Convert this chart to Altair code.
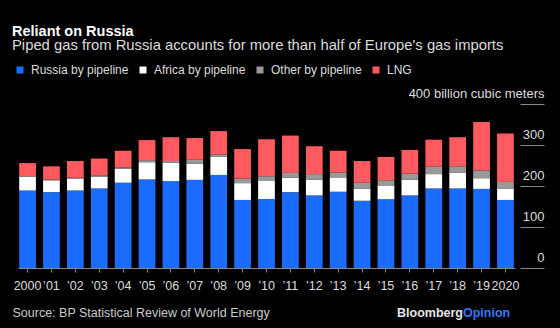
import altair as alt
import pandas as pd

years = ["2000", "’01", "’02", "’03", "’04", "’05", "’06", "’07", "’08", "’09", "’10",
         "’11", "’12", "’13", "’14", "’15", "’16", "’17", "’18", "’19", "2020"]
russia = [189, 185, 189, 194, 208, 216, 212, 215, 227, 166, 168,
          185, 177, 186, 164, 168, 177, 194, 194, 193, 166]
africa = [33, 29, 29, 29, 34, 42, 45, 39, 44, 41, 44,
          35, 38, 35, 29, 32, 38, 35, 38, 26, 28]
other = [2, 2, 2, 3, 3, 5, 4, 10, 6, 11, 12,
         12, 14, 12, 15, 14, 15, 18, 16, 19, 16]
lng = [32, 32, 41, 41, 41, 49, 58, 53, 57, 72, 90,
       91, 68, 53, 53, 57, 58, 66, 71, 118, 118]

series = ["Russia by pipeline", "Africa by pipeline", "Other by pipeline", "LNG"]
colors = ["#1a6cff", "#ffffff", "#999999", "#ff5a5f"]

rows = []
for i, y in enumerate(years):
    for k, (name, vals) in enumerate(zip(series, [russia, africa, other, lng])):
        rows.append({"year": y, "series": name, "value": vals[i], "order": k})
df = pd.DataFrame(rows)

FONT = "Liberation Sans"

bars = alt.Chart(df).mark_bar().encode(
    x=alt.X("year:N", sort=years,
            scale=alt.Scale(paddingInner=0.3, paddingOuter=0.05),
            axis=alt.Axis(title="Source: BP Statistical Review of World Energy",
                          titleAnchor="start", titleAlign="left", titleX=-6, titleY=48,
                          titleBaseline="alphabetic",
                          titleFontWeight="normal", titleColor="#cccccc", titleFontSize=12.5,
                          titleFont=FONT,
                          labelAngle=0, labelFontSize=12.5, labelColor="#dddddd",
                          labelPadding=7, tickSize=4, tickColor="#888888",
                          domainColor="#888888", labelFont=FONT)),
    y=alt.Y("value:Q", stack="zero",
            scale=alt.Scale(domain=[0, 400], nice=False),
            axis=alt.Axis(orient="right", values=[0, 100, 200, 300, 400], grid=False,
                          domain=False, offset=5, tickSize=24, tickColor="#888888",
                          labelAlign="right", labelBaseline="alphabetic", labelOffset=-7,
                          labelPadding=0, labelOverlap=False, labelFontSize=13,
                          labelColor="#dddddd", labelFont=FONT, title=None,
                          labelExpr="datum.value == 400 ? '400 billion cubic meters' : datum.label")),
    color=alt.Color("series:N", sort=series,
                    scale=alt.Scale(domain=series, range=colors),
                    legend=alt.Legend(orient="none", legendX=-4, legendY=-40,
                                      direction="horizontal", title=None,
                                      symbolType="square", symbolSize=49,
                                      symbolStrokeWidth=0, labelFontSize=12,
                                      labelColor="#dddddd", labelFont=FONT,
                                      labelOffset=5, columnPadding=8)),
    order=alt.Order("order:Q", sort="ascending"),
)

bb = alt.Chart(pd.DataFrame({"t": ["Bloomberg"]})).mark_text(
    align="right", baseline="middle", fontSize=12.5, fontWeight="bold",
    color="#e6e6e6", font=FONT
).encode(text="t:N", x=alt.value(445), y=alt.value(209))

op = alt.Chart(pd.DataFrame({"t": ["Opinion"]})).mark_text(
    align="left", baseline="middle", fontSize=12.5, fontWeight="bold",
    color="#2a7bff", font=FONT
).encode(text="t:N", x=alt.value(445), y=alt.value(209))

chart = alt.layer(bars, bb, op).properties(
    width=497, height=164,
    padding={"left": 18, "top": 104, "right": 45, "bottom": 60},
    autosize=alt.AutoSizeParams(type="none"),
    background="#000000",
    title=alt.TitleParams(
        text="Reliant on Russia",
        subtitle="Piped gas from Russia accounts for more than half of Europe's gas imports",
        anchor="start", frame="group", dx=-6, offset=10,
        font=FONT, fontSize=14.5, fontWeight="bold", color="#ffffff",
        subtitleFont=FONT, subtitleFontSize=14.8, subtitleColor="#dddddd",
        subtitlePadding=-1,
    ),
).configure_view(stroke=None)

chart.save("out.html", embed_options={"renderer": "svg", "actions": False})
